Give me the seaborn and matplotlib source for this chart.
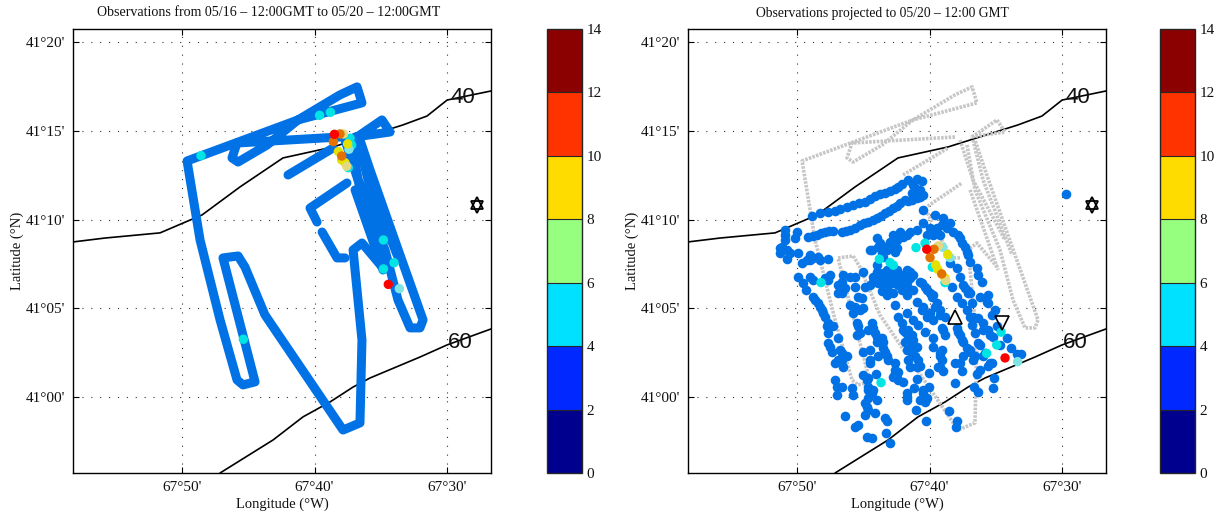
import matplotlib
matplotlib.use('Agg')
import matplotlib.pyplot as plt
from matplotlib.cm import ScalarMappable
from matplotlib.colors import BoundaryNorm, ListedColormap
import seaborn as sns

# all positions in arc minutes: lon = minutes past 67W, lat = minutes past 41N
iso40_lon = [58.23, 55.81, 51.66, 48.49, 45.62, 42.38, 38.6, 33.32, 31.51, 29.99, 26.68]
iso40_lat = [8.74, 8.96, 9.25, 10.26, 11.84, 13.47, 14.09, 15.33, 15.83, 16.73, 17.24]
iso60_lon = [47.13, 43.13, 40.87, 38.83, 37.09, 35.81, 32.04, 30.0, 26.68]
iso60_lat = [-4.27, -2.41, -1.11, -0.27, 0.57, 1.08, 2.26, 2.94, 3.84]

# survey track, one pair of lists per leg
leg1_lon = [37.7, 38.3, 39.43]
leg1_lat = [7.84, 7.84, 9.3]
leg2_lon = [39.81, 40.34, 37.55]
leg2_lat = [9.86, 10.65, 12.06]
leg3_lon = [42.0, 38.6]
leg3_lat = [12.51, 14.03]
leg4_lon = [38.08, 45.85, 46.23, 45.77, 43.58, 41.25, 38.08, 36.79, 36.42, 41.25, 49.62, 48.64, 47.13,
            45.85, 45.4, 44.49, 46.91, 45.77, 45.25, 43.74, 37.85, 36.57, 36.42, 37.09, 36.42, 34.83]
leg4_lat = [14.65, 14.31, 13.47, 13.24, 14.2, 15.61, 17.02, 17.47, 16.57, 15.61, 13.3, 8.85, 4.35,
            0.97, 0.69, 0.86, 7.84, 7.95, 7.33, 4.63, -1.85, -1.45, 3.22, 8.29, 8.68, 7.27]
leg5_lon = [36.79, 34.91, 34.3, 36.94]
leg5_lat = [14.65, 15.61, 14.93, 14.65]
leg6_lon = [36.72, 35.96, 33.77]
leg6_lat = [14.48, 12.23, 8.01]
leg7_lon = [37.17, 36.57, 34.68, 33.7, 32.79, 32.04, 31.81, 33.55, 35.81, 36.57]
leg7_lat = [14.2, 11.67, 8.29, 5.47, 3.9, 3.9, 4.35, 8.01, 12.79, 14.48]
leg8_lon = [36.94, 34.83]
leg8_lat = [11.67, 7.16]
leg9_lon = [37.7, 36.72, 34.3]
leg9_lat = [14.48, 12.23, 8.85]
track_legs = [(leg1_lon, leg1_lat), (leg2_lon, leg2_lat), (leg3_lon, leg3_lat), (leg4_lon, leg4_lat),
              (leg5_lon, leg5_lat), (leg6_lon, leg6_lat), (leg7_lon, leg7_lat), (leg8_lon, leg8_lat),
              (leg9_lon, leg9_lat)]

# observations with a higher count on the left panel
obs_lon = [48.57, 39.62, 38.8, 34.8, 34.0, 34.8, 37.32, 37.2, 37.45, 45.37, 37.4, 33.6,
           37.5, 38.2, 37.95, 37.7, 37.57, 37.82, 38.58, 37.95, 38.08, 38.5, 34.43]
obs_lat = [13.6, 15.87, 16.04, 8.85, 7.57, 7.22, 14.58, 14.2, 12.92, 3.26, 13.96, 6.11,
           14.26, 13.83, 13.36, 13.2, 13.0, 14.82, 14.39, 13.58, 14.82, 14.8, 6.35]
obs_val = [5, 5, 5, 5, 5, 5, 5, 5, 5, 5, 6, 6,
           9, 9, 9, 9, 8, 8, 10, 10, 10, 12, 12]

# projected observations, low count
proj_lon = [48.9, 47.64, 47.13, 46.25, 45.75, 44.87, 44.12, 43.36, 42.61, 42.1, 41.6, 40.97, 40.6,
            49.15, 48.52, 47.89, 47.26, 46.63, 46.0, 45.25, 44.62, 43.99, 43.36, 42.73, 42.23, 41.85, 41.35, 40.97, 40.47, 41.1, 40.52,
            50.91, 50.03, 50.15, 50.91, 51.16, 51.29, 50.53, 49.9, 50.78, 49.65, 49.02, 49.02, 48.39, 47.64, 48.27, 49.9, 49.02, 49.52, 49.32, 47.51, 47.89,
            48.77, 48.39, 48.14, 47.89, 47.64, 47.26, 47.64, 47.64, 47.39, 46.88, 46.63, 47.13, 46.63, 46.5,
            47.13, 47.01, 47.01, 46.63, 45.88, 45.75,
            46.88, 46.5, 46.63, 46.0, 45.75, 45.5, 45.25, 45.5, 44.62, 45.25, 45.0, 45.37, 45.62, 45.0, 45.62,
            44.49, 43.99, 43.36, 42.48, 43.49, 43.99, 43.23, 44.24, 43.74, 43.23, 42.73, 42.23, 41.72, 41.22, 44.49, 43.86, 43.36, 42.86, 42.36, 41.72, 41.22, 43.23, 42.73, 41.72, 44.87,
            42.98, 42.23, 41.47, 42.48, 41.98, 40.47, 39.71, 40.21, 39.46, 38.96, 39.59, 38.45, 38.2, 37.7, 37.32, 37.07, 36.95,
            36.44, 36.32, 36.06, 38.45, 37.95, 37.7, 37.45, 37.07, 38.33, 37.95, 37.57, 37.2, 36.95,
            40.59, 40.21, 39.71, 39.46, 39.21, 38.83, 40.97, 40.47, 39.96, 39.71,
            42.61, 42.36, 41.72, 41.22, 40.84, 40.34, 39.08, 38.83, 37.95, 37.7, 37.45,
            42.1, 41.85, 41.6, 41.35, 41.1, 41.6, 41.72, 41.22, 41.47, 40.97,
            44.37, 44.11, 43.99, 43.49, 43.36, 43.11, 44.99, 44.49, 43.86, 42.61, 42.73, 42.36, 41.98, 40.72,
            39.71, 39.71, 39.21, 39.08, 39.33, 38.96, 40.01, 38.08, 37.57, 38.08, 40.97, 41.17, 40.01, 40.47, 41.72, 41.72, 40.21, 40.72,
            44.99, 44.62, 44.04, 44.62, 44.24, 44.62, 43.99, 44.74, 44.87, 44.11, 43.36, 45.37, 46.38, 44.74, 44.37, 43.28, 42.98, 41.02, 40.27, 38.55, 37.9, 38.0,
            36.82, 36.19, 35.56, 35.56, 35.06, 36.31, 36.82, 35.94, 35.56, 36.57, 36.31, 35.18, 34.68, 36.19, 36.94, 37.45, 37.7, 36.69, 35.94, 35.31, 35.56, 36.19, 36.39, 35.13, 35.18, 36.64, 36.32, 34.18, 33.85, 33.42, 33.12, 29.7,
            48.27, 46.76, 45.3, 44.49, 43.74, 42.98, 42.35, 41.22, 40.72, 41.35,
            48.82, 48.19, 47.56, 46.3, 45.62, 44.92, 44.29, 43.66, 43.03, 42.48, 41.6, 40.72,
            43.99, 43.49, 42.98, 42.48, 41.98, 41.47, 44.24, 43.61, 43.11, 42.6, 42.1, 41.47, 43.61, 43.11, 42.1, 41.6,
            44.37, 43.86, 42.98, 43.61, 42.6, 43.23, 43.74, 42.73, 41.72, 40.97, 39.96, 39.08, 38.7, 39.21, 39.71, 37.82, 37.57, 37.2,
            41.98, 41.6, 41.35, 41.47, 40.97, 41.35, 40.84, 41.85, 42.61, 42.36,
            43.49, 43.23, 43.61, 44.24, 43.99, 44.49, 44.49, 45.37, 45.62, 45.12, 46.0, 46.63, 46.38, 46.88,
            48.64, 48.27, 48.01, 47.76, 47.51, 46.88, 46.76, 46.25, 48.77, 47.64, 50.78, 50.91, 51.29, 49.27, 48.77,
            39.84, 39.96, 40.34, 40.72, 39.21, 39.59, 38.96, 40.59, 40.21, 37.82, 37.57, 37.2, 36.94, 37.32, 37.07, 36.95,
            36.69, 35.94, 35.44, 35.69, 35.31, 34.93, 35.81, 36.57, 35.44,
            44.62, 44.37, 44.74, 44.87, 44.62, 43.23, 45.63, 40.47, 40.34, 41.72, 42.61, 42.48, 39.21, 39.08, 39.21]
proj_lat = [10.21, 10.45, 10.51, 10.73, 10.83, 11.01, 11.33, 11.52, 11.71, 12.01, 12.23, 12.27, 12.18,
            9.04, 9.14, 9.32, 9.38, 9.32, 9.42, 9.7, 9.89, 10.07, 10.36, 10.64, 10.92, 11.11, 11.11, 11.2, 11.39, 11.76, 10.54,
            9.42, 9.32, 8.95, 8.86, 8.48, 8.11, 8.11, 8.11, 7.77, 7.54, 8.01, 7.73, 7.92, 7.77, 7.73, 6.79, 6.79, 6.41, 6.04, 6.88, 6.7,
            5.63, 5.29, 4.91, 4.54, 4.16, 3.98, 3.6, 3.04, 2.57, 3.32, 2.47, 1.91, 2.1, 1.72,
            0.97, 0.6, 0.13, 0.6, 0.5, 0.13,
            6.32, 6.88, 5.85, 5.2, 4.73, 4.16, 3.6, 3.5, 3.79, 4.91, 5.01, 5.66, 6.23, 7.07, 6.79,
            8.29, 8.95, 8.48, 8.39, 7.92, 7.45, 7.17, 6.79, 6.88, 6.79, 6.98, 6.79, 7.17, 6.88, 6.32, 6.41, 6.13, 6.41, 6.32, 6.51, 6.04, 5.76, 5.85, 5.76, 6.23,
            8.76, 9.32, 9.32, 8.86, 9.04, 9.79, 9.32, 9.14, 9.51, 10.07, 10.26, 9.79, 9.32, 8.95, 8.48, 8.01, 7.63,
            7.26, 6.88, 6.51, 7.54, 7.26, 6.79, 6.32, 5.85, 6.23, 5.66, 5.29, 4.91, 4.54,
            6.41, 6.04, 5.76, 5.29, 4.91, 4.54, 5.38, 5.1, 4.73, 4.35,
            5.2, 4.54, 4.73, 4.35, 4.07, 3.69, 3.88, 3.51, 3.88, 3.51, 3.13,
            4.16, 3.69, 3.32, 2.85, 2.29, 2.1, 2.66, 3.22, 1.72, 1.72,
            4.16, 3.6, 3.13, 3.13, 2.57, 2.1, 2.57, 1.91, 2.29, 1.53, 1.16, 0.97, 0.88, 1.76,
            3.32, 2.85, 2.47, 2.1, 1.72, 1.5, 1.38, 1.91, 1.48, 0.78, 1.01, 0.5, 0.6, 0.22, 0.22, -0.15, -0.06, -0.15,
            1.25, 1.07, 1.31, 0.41, 0.41, -0.06, -0.15, -0.53, -1.0, -0.9, -1.19, -1.56, -1.06, -2.26, -2.31, -2.03, -2.6, -0.72, -1.37, -0.77, -1.34, -1.66,
            5.29, 5.66, 5.76, 5.29, 4.91, 4.44, 4.07, 4.16, 3.79, 3.6, 3.04, 3.41, 2.94, 2.91, 2.66, 2.29, 1.91, 2.1, 2.29, 1.91, 1.76, 1.53, 1.31, 1.07, 0.5, 0.6, 0.31, 3.32, 2.76, 2.42, 2.42, 11.43,
            10.36, 10.6, 10.92, 11.14, 11.43, 11.61, 11.82, 11.95, 11.67, 11.48,
            9.08, 9.27, 9.36, 9.38, 9.51, 9.79, 9.98, 10.21, 10.51, 10.77, 11.07, 11.26,
            7.07, 6.98, 7.17, 7.17, 6.88, 7.07, 6.51, 6.6, 6.51, 6.7, 6.51, 6.7, 5.95, 5.95, 6.04, 6.13,
            8.29, 8.44, 8.44, 8.1, 8.2, 8.29, 8.67, 9.14, 9.14, 9.42, 9.51, 9.7, 9.51, 9.14, 9.14, 9.14, 8.67, 8.2,
            3.79, 3.79, 3.51, 3.04, 2.85, 2.47, 2.1, 3.13, 1.91, 1.44,
            2.76, 2.29, 3.32, 3.88, 3.41, 2.66, 2.1, 3.98, 5.1, 5.57, 6.79, 6.51, 6.13, 5.85,
            5.48, 5.1, 4.73, 3.98, 2.85, 2.1, 2.66, 2.29, 6.6, 6.6, 8.29, 9.14, 8.39, 7.73, 7.82,
            5.66, 5.85, 6.23, 6.51, 4.63, 5.1, 3.79, 4.91, 4.54, 3.69, 3.22, 2.76, 2.57, 6.13, 5.95, 5.85,
            4.54, 3.79, 3.5, 5.38, 4.63, 3.98, 2.47, 2.29, 1.91,
            0.6, 0.22, 0.97, -0.34, -0.72, -1.37, -1.66, 0.41, -0.25, 0.0, 1.35, 1.07, 1.72, 2.66, 2.29]

# projected observations with a higher count
high_lon = [41.02, 40.34, 43.79, 42.98, 42.73, 48.19, 43.66, 34.6, 34.93, 35.69, 39.79, 38.83, 33.35, 38.45, 39.0,
            38.63, 39.54, 39.38, 38.83, 39.33, 38.78, 39.66, 39.96, 39.08, 40.21, 34.3]
high_lat = [8.42, 8.67, 7.77, 7.58, 7.43, 6.45, 0.82, 3.66, 2.94, 2.47, 7.32, 6.45, 2.0, 7.86, 8.44,
            8.03, 7.45, 7.2, 6.7, 8.52, 6.57, 8.33, 7.86, 6.94, 8.33, 2.21]
high_val = [5, 5, 5, 5, 5, 5, 5, 5, 5, 5, 5, 5, 6, 6, 6,
            9, 9, 9, 9, 8, 8, 10, 10, 10, 12, 12]

levels = [0, 2, 4, 6, 8, 10, 12, 14]
level_colors = ['#00008f', '#0028ff', '#00e0ff', '#96ff7f', '#ffdc00', '#ff3300', '#8b0000']
value_colors = {5: '#00e4e4', 6: '#7fe4e4', 8: '#e4d97f', 9: '#e4e000', 10: '#e47200', 12: '#ff0000'}
blue = '#0072e6'
grey = '#c6c6c6'

lon_ticks = [50, 40, 30]
lon_labels = ["67°50'", "67°40'", "67°30'"]
lat_ticks = [0, 5, 10, 15, 20]
lat_labels = ["41°00'", "41°05'", "41°10'", "41°15'", "41°20'"]

sns.set_theme(style='white')
plt.rcParams['font.family'] = ['Liberation Serif', 'DejaVu Serif']

W, H = 1225, 515
fig = plt.figure(figsize=(W / 100, H / 100), dpi=100)
cmap = ListedColormap(level_colors)
norm = BoundaryNorm(levels, cmap.N)


def make_axes(x0, title, title_x, title_size):
    ax = fig.add_axes([x0 / W, 1 - 473 / H, 418 / W, 444 / H])
    ax.set_xlim(58.23, 26.68)
    ax.set_ylim(-4.27, 20.73)
    ax.set_xticks(lon_ticks, lon_labels)
    ax.set_yticks(lat_ticks, lat_labels)
    ax.tick_params(direction='in', length=4, width=0.8, color='black', labelsize=11, pad=6,
                   top=True, right=True, bottom=True, left=True, labelcolor='#111111')
    ax.grid(True, color='#333333', linestyle=(0, (1, 7)), linewidth=0.8)
    ax.set_axisbelow(True)
    for s in ax.spines.values():
        s.set_linewidth(1.0)
        s.set_color('black')
    ax.set_title(title, fontsize=title_size, pad=9, color='#111111', x=title_x)
    ax.set_xlabel('Longitude (°W)', fontsize=10.5, labelpad=2, color='#111111')
    ax.set_ylabel('Latitude (°N)', fontsize=10.5, labelpad=1, color='#111111')
    return ax


def draw_isobaths(ax):
    sns.lineplot(x=iso40_lon, y=iso40_lat, sort=False, estimator=None, color='black', lw=1.2, ax=ax)
    sns.lineplot(x=iso60_lon, y=iso60_lat, sort=False, estimator=None, color='black', lw=1.2, ax=ax)
    ax.text(28.8, 16.85, '40', family='Liberation Sans', fontsize=16, ha='center', va='center', color='#111111')
    ax.text(29.0, 3.05, '60', family='Liberation Sans', fontsize=16, ha='center', va='center', color='#111111')


def draw_star(ax):
    ax.plot([27.74], [10.93], marker='^', ms=8, mfc='none', mec='black', mew=1.3)
    ax.plot([27.74], [10.72], marker='v', ms=8, mfc='none', mec='black', mew=1.3)


def draw_colorbar(x0):
    cax = fig.add_axes([x0 / W, 1 - 473 / H, 35 / W, 444 / H])
    cb = fig.colorbar(ScalarMappable(norm=norm, cmap=cmap), cax=cax, drawedges=True, ticks=levels)
    cb.ax.tick_params(labelsize=11, length=0, pad=3.5, labelcolor='#111111')
    cb.outline.set_linewidth(1.0)
    cb.dividers.set_linewidth(0.8)


# left panel
ax1 = make_axes(73, 'Observations from 05/16 – 12:00GMT to 05/20 – 12:00GMT', 0.469, 10.1)
draw_isobaths(ax1)
for lon, lat in track_legs:
    # seaborn hands the line a dash tuple, so the dash styles are the ones used
    sns.lineplot(x=lon, y=lat, sort=False, estimator=None, color=blue, lw=6.5, ax=ax1,
                 dash_capstyle='round', dash_joinstyle='round')
sns.scatterplot(x=obs_lon, y=obs_lat, hue=obs_val, palette=value_colors, s=46, linewidth=0, legend=False, ax=ax1, zorder=5)
draw_star(ax1)
draw_colorbar(547)

# right panel
ax2 = make_axes(688, 'Observations projected to 05/20 – 12:00 GMT', 0.466, 9.8)
draw_isobaths(ax2)
for lon, lat in track_legs:
    sns.lineplot(x=lon, y=lat, sort=False, estimator=None, color=grey, lw=2.6, linestyle=(0, (0.7, 0.35)), ax=ax2)
sns.scatterplot(x=proj_lon, y=proj_lat, color=blue, s=48, linewidth=0, ax=ax2, zorder=4)
sns.scatterplot(x=high_lon, y=high_lat, hue=high_val, palette=value_colors, s=46, linewidth=0, legend=False, ax=ax2, zorder=5)
ax2.plot([38.08], [4.52], marker='^', ms=10, mfc='none', mec='black', mew=1.2, zorder=6)
ax2.plot([34.53], [4.18], marker='v', ms=10, mfc='none', mec='black', mew=1.2, zorder=6)
draw_star(ax2)
draw_colorbar(1160)

fig.savefig('out.png', dpi=100)
